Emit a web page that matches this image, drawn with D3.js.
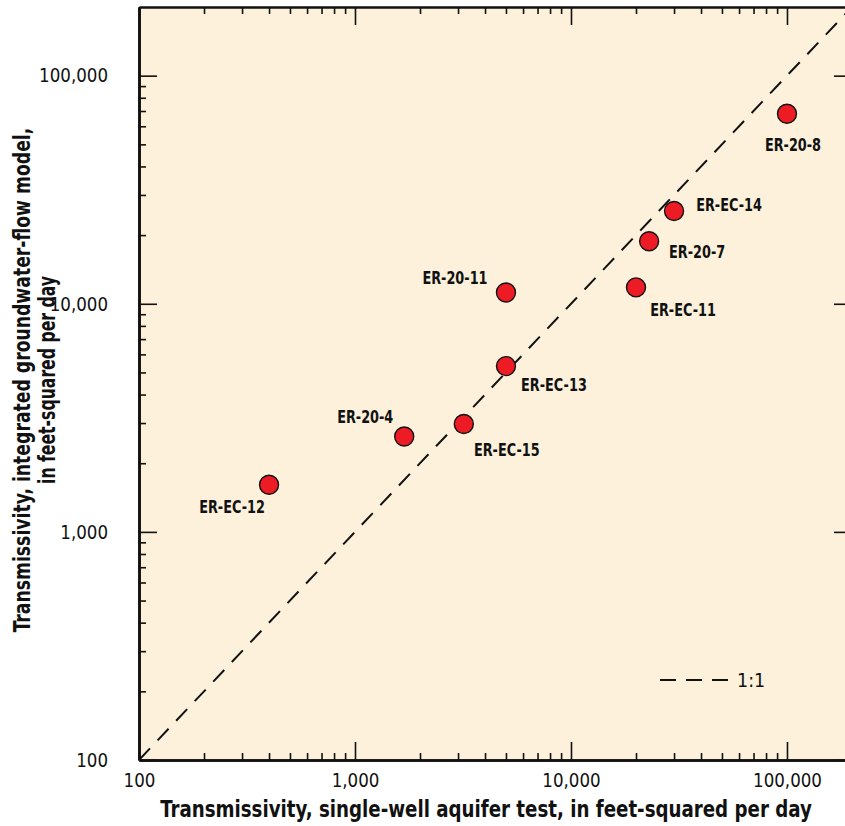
<!DOCTYPE html>
<html>
<head>
<meta charset="utf-8">
<script src="https://cdn.jsdelivr.net/npm/d3@7"></script>
<style>
  html, body { margin: 0; padding: 0; background: #ffffff; }
  svg { display: block; }
  .cond { font-family: "Liberation Sans Narrow", "DejaVu Sans Condensed", "Arial Narrow", sans-serif; font-stretch: condensed; }
</style>
</head>
<body>
<svg id="chart" width="845" height="826"></svg>
<script>
// wells, single-well test T (x) and model T (y), ft2/d
let wells = ['ER-EC-12', 'ER-20-4', 'ER-EC-15', 'ER-EC-13', 'ER-20-11', 'ER-EC-11', 'ER-20-7', 'ER-EC-14', 'ER-20-8']
let testT = [400, 1690, 3190, 5000, 5000, 20000, 23000, 30000, 100000]
let modelT = [1610, 2620, 2970, 5330, 11200, 11800, 18800, 25500, 68100]
let majorTicks = [100, 1000, 10000, 100000]
let domainT = [100, 200000]

// where the name sits relative to its dot (px)
let labelOffset = {
    'ER-EC-12': [-37, 28], 'ER-20-4': [-39, -13], 'ER-EC-15': [43, 32],
    'ER-EC-13': [48, 25], 'ER-20-11': [-51, -9], 'ER-EC-11': [47, 29],
    'ER-20-7': [48, 17], 'ER-EC-14': [55, 0], 'ER-20-8': [6, 37]
}

let margin = { left: 139, top: 7, right: 852, bottom: 760 }
let bg = '#fdf1dc'

let minorTicks = []
d3.range(2, 6).forEach((e) => {
    d3.range(2, 10).forEach((m) => {
        let v = m * Math.pow(10, e)
        if (v < domainT[1]) minorTicks.push(v)
    })
})

let xscale = d3.scaleLog().domain(domainT).range([margin.left, margin.right])
let yscale = d3.scaleLog().domain(domainT).range([margin.bottom, margin.top])

let svg = d3.select('#chart')

// squeeze a text to look like a condensed face
function narrow(sel, k) {
    sel.each(function() {
        let w = this.getComputedTextLength()
        d3.select(this).attr('textLength', w * k).attr('lengthAdjust', 'spacingAndGlyphs')
    })
}

// title squeezed to a given width with a transform
function title(x, y, rot, width, txt) {
    let t = svg.append('text').attr('class', 'cond')
        .attr('text-anchor', 'middle')
        .style('font-size', '23px').style('font-weight', 'bold').style('fill', '#111')
        .text(txt)
    let k = width / t.node().getComputedTextLength()
    t.attr('transform', `translate(${x},${y}) rotate(${rot}) scale(${k},1)`)
}

svg.append('defs').append('clipPath').attr('id', 'plotclip')
    .append('rect')
    .attr('x', margin.left).attr('y', margin.top)
    .attr('width', margin.right - margin.left).attr('height', margin.bottom - margin.top)

svg.append('rect')
    .attr('x', margin.left).attr('y', margin.top)
    .attr('width', margin.right - margin.left).attr('height', margin.bottom - margin.top)
    .style('fill', bg)

// 1:1 line
svg.append('line')
    .attr('clip-path', 'url(#plotclip)')
    .attr('x1', xscale(domainT[0])).attr('y1', yscale(domainT[0]))
    .attr('x2', xscale(domainT[1])).attr('y2', yscale(domainT[1]))
    .style('stroke', '#111').style('stroke-width', 2)
    .style('stroke-dasharray', '16, 11')

function drawAxis(axis, transform, size, labels, width) {
    let g = svg.append('g').attr('transform', transform)
        .call(axis.tickSize(-size).tickSizeOuter(0).tickPadding(labels ? 8 : 0)
            .tickFormat(labels ? d3.format(',') : ''))
    g.select('.domain').style('stroke', '#111').style('stroke-width', width)
    g.selectAll('.tick line').style('stroke', '#111').style('stroke-width', 1.6)
    g.selectAll('.tick text').attr('class', 'cond').style('font-size', '19.5px').style('fill', '#111')
    return g
}

// minor ticks first, then major ones with labels
drawAxis(d3.axisBottom(xscale).tickValues(minorTicks), `translate(0,${margin.bottom})`, 7, false, 2.6)
drawAxis(d3.axisTop(xscale).tickValues(minorTicks), `translate(0,${margin.top})`, 7, false, 2)
drawAxis(d3.axisLeft(yscale).tickValues(minorTicks), `translate(${margin.left},0)`, 7, false, 2.6)
drawAxis(d3.axisRight(yscale).tickValues(minorTicks), `translate(${margin.right},0)`, 7, false, 2)

let xb = drawAxis(d3.axisBottom(xscale).tickValues(majorTicks), `translate(0,${margin.bottom})`, 18, true, 2.6)
xb.selectAll('.tick text').attr('dy', '0.96em')
narrow(xb.selectAll('.tick text'), 0.95)
drawAxis(d3.axisTop(xscale).tickValues(majorTicks), `translate(0,${margin.top})`, 18, false, 2)
let yl = drawAxis(d3.axisLeft(yscale).tickValues(majorTicks), `translate(${margin.left},0)`, 18, true, 2.6)
yl.selectAll('.tick text').attr('x', -31)
narrow(yl.selectAll('.tick text'), 0.95)
drawAxis(d3.axisRight(yscale).tickValues(majorTicks), `translate(${margin.right},0)`, 18, false, 2)

// points
let pts = wells.map((w, i) => ({ name: w, x: testT[i], y: modelT[i] }))

svg.append('g').selectAll('circle')
    .data(pts).enter().append('circle')
    .attr('cx', d => xscale(d.x))
    .attr('cy', d => yscale(d.y))
    .attr('r', 9.5)
    .style('fill', '#ed1c24')
    .style('stroke', '#111')
    .style('stroke-width', 1.4)

let names = svg.append('g').selectAll('text')
    .data(pts).enter().append('text')
    .attr('class', 'cond')
    .attr('x', d => xscale(d.x) + labelOffset[d.name][0])
    .attr('y', d => yscale(d.y) + labelOffset[d.name][1])
    .attr('text-anchor', 'middle')
    .style('font-size', '17px').style('font-weight', 'bold').style('fill', '#111')
    .text(d => d.name)
narrow(names, 0.84)

// legend
let lg = svg.append('g').attr('transform', 'translate(660,680)')
lg.append('line').attr('x1', 0).attr('x2', 68).attr('y1', 0).attr('y2', 0)
    .style('stroke', '#111').style('stroke-width', 2).style('stroke-dasharray', '16, 10')
lg.append('text').attr('class', 'cond').attr('x', 77).attr('y', 7)
    .style('font-size', '19.5px').style('fill', '#111').text('1:1')

// axis titles
title(486, 817, 0, 652, 'Transmissivity, single-well aquifer test, in feet-squared per day')
title(30, 380, -90, 505, 'Transmissivity, integrated groundwater-flow model,')
title(55, 380, -90, 208, 'in feet-squared per day')
</script>
</body>
</html>
